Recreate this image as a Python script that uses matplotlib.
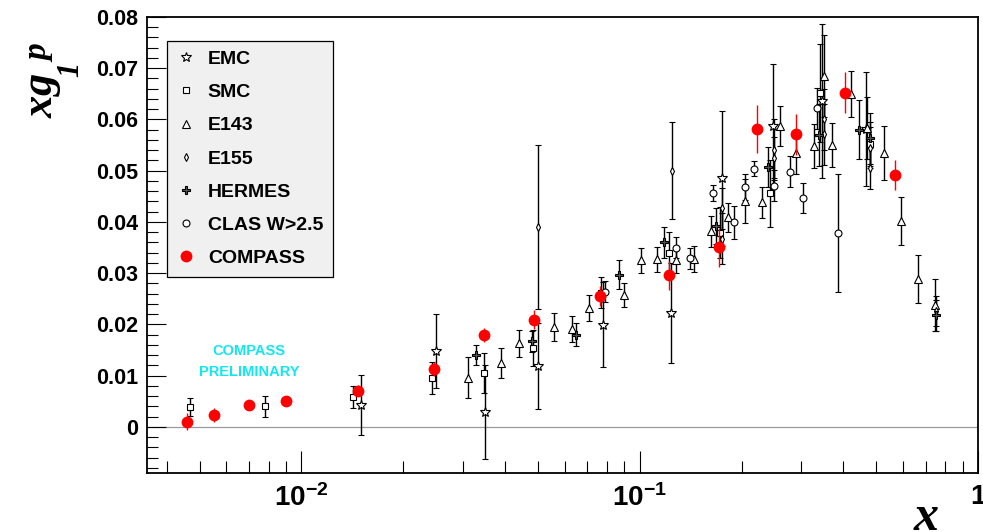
import matplotlib
matplotlib.use("Agg")
import matplotlib.pyplot as plt
from matplotlib.lines import Line2D

# ---- data ----
emc_x = [0.015, 0.025, 0.035, 0.050, 0.078, 0.124, 0.175, 0.248, 0.346, 0.466]
emc_y = [0.0043, 0.0148, 0.0029, 0.0118, 0.0199, 0.0222, 0.0485, 0.0587, 0.0636, 0.0582]
emc_e = [0.0058, 0.0072, 0.0092, 0.0084, 0.0083, 0.0098, 0.0132, 0.0122, 0.0150, 0.0111]

smc_x = [0.0047, 0.0078, 0.0142, 0.0244, 0.0346, 0.0485, 0.077, 0.122, 0.173, 0.242, 0.342, 0.48]
smc_y = [0.0039, 0.0040, 0.00585, 0.0096, 0.0105, 0.0154, 0.0262, 0.0339, 0.0379, 0.0456, 0.0652, 0.0552]
smc_e = [0.0017, 0.0020, 0.0021, 0.0031, 0.0039, 0.0035, 0.0030, 0.0042, 0.0050, 0.0065, 0.0096, 0.0043]

e143_x = [0.031, 0.039, 0.0439, 0.0559, 0.063, 0.0709, 0.090, 0.101, 0.1127, 0.1277,
          0.1445, 0.1625, 0.182, 0.2045, 0.23, 0.259, 0.2907, 0.328, 0.35, 0.37,
          0.42, 0.47, 0.527, 0.591, 0.665, 0.748]
e143_y = [0.0096, 0.0124, 0.0163, 0.0195, 0.0191, 0.0232, 0.0257, 0.0325, 0.0327, 0.0326,
          0.0328, 0.0382, 0.0409, 0.0440, 0.0438, 0.0588, 0.0534, 0.0549, 0.0685, 0.0550,
          0.0650, 0.0583, 0.0535, 0.0402, 0.0288, 0.0238]
e143_e = [0.0040, 0.0029, 0.0027, 0.0027, 0.0025, 0.0025, 0.0023, 0.0025, 0.0025, 0.0025,
          0.0025, 0.0030, 0.0028, 0.0043, 0.0030, 0.0039, 0.0040, 0.0043, 0.0080, 0.0043,
          0.0045, 0.0060, 0.0053, 0.0047, 0.0047, 0.0050]

e155_x = [0.050, 0.125, 0.175, 0.175, 0.25, 0.25, 0.35, 0.35, 0.48, 0.48, 0.75]
e155_y = [0.0391, 0.0500, 0.0427, 0.0367, 0.0525, 0.0541, 0.0600, 0.0571, 0.0505, 0.0545, 0.0226]
e155_e = [0.0160, 0.0095, 0.0040, 0.0050, 0.0040, 0.0060, 0.0060, 0.0060, 0.0040, 0.0040, 0.0030]

hermes_x = [0.0329, 0.048, 0.065, 0.087, 0.118, 0.168, 0.24, 0.34, 0.446, 0.478, 0.75]
hermes_y = [0.0140, 0.0167, 0.0180, 0.0297, 0.0360, 0.0392, 0.0507, 0.0570, 0.0580, 0.0563, 0.0218]
hermes_e = [0.0020, 0.0021, 0.0023, 0.0028, 0.0030, 0.0035, 0.0039, 0.0060, 0.0058, 0.0050, 0.0030]

clas_x = [0.079, 0.128, 0.1405, 0.1652, 0.1906, 0.2045, 0.218, 0.25, 0.279, 0.303, 0.334, 0.3855]
clas_y = [0.0264, 0.0350, 0.0329, 0.0457, 0.0399, 0.0468, 0.0504, 0.0471, 0.0498, 0.0447, 0.0622, 0.0378]
clas_e = [0.0020, 0.0020, 0.0020, 0.0016, 0.0033, 0.0025, 0.0015, 0.0030, 0.0030, 0.0029, 0.0040, 0.0115]

compass_x = [0.0046, 0.0055, 0.0070, 0.0090, 0.0147, 0.0247, 0.0346, 0.0487, 0.0765,
             0.122, 0.172, 0.222, 0.290, 0.405, 0.570]
compass_y = [0.00103, 0.00234, 0.00435, 0.0051, 0.00708, 0.01126, 0.01795, 0.02094, 0.02556,
             0.0296, 0.0351, 0.0581, 0.0571, 0.0652, 0.0491]
compass_e = [0.0016, 0.0014, 0.0006, 0.0006, 0.0010, 0.0014, 0.0014, 0.0018, 0.0020,
             0.0028, 0.0038, 0.0047, 0.0040, 0.0040, 0.0029]

ytick_vals = [0, 0.01, 0.02, 0.03, 0.04, 0.05, 0.06, 0.07, 0.08]
ytick_labels = ["0", "0.01", "0.02", "0.03", "0.04", "0.05", "0.06", "0.07", "0.08"]
xtick_vals = [0.01, 0.1, 1]
xtick_labels = [r"$\mathbf{10^{-2}}$", r"$\mathbf{10^{-1}}$", r"$\mathbf{1}$"]

plt.rcParams["font.family"] = ["Liberation Sans", "DejaVu Sans"]
plt.rcParams["font.weight"] = "bold"
plt.rcParams["mathtext.fontset"] = "custom"
plt.rcParams["mathtext.it"] = "Liberation Serif:italic:bold"
plt.rcParams["mathtext.rm"] = "Liberation Serif:italic:bold"
plt.rcParams["mathtext.bf"] = "Liberation Sans:bold"

W, H = 983, 532
fig = plt.figure(figsize=(W / 100, H / 100), dpi=100)
ax = fig.add_axes([146.7 / W, 1 - 473 / H, (978 - 146.7) / W, (473 - 17) / H])


def draw(x, y, e, marker, ms, fc="white", ec="black", z=3, cap=2.2, mew=0.8):
    ax.errorbar(x, y, yerr=e, fmt=marker, ms=ms, mfc=fc, mec=ec, mew=mew,
                ecolor=ec, elinewidth=1.0, capsize=cap, capthick=1.0, zorder=z)


ax.axhline(0, color="#9a9a9a", lw=0.9, zorder=1)

draw(emc_x, emc_y, emc_e, "*", 7)
draw(smc_x, smc_y, smc_e, "s", 5)
draw(e143_x, e143_y, e143_e, "^", 5.5)
draw(e155_x, e155_y, e155_e, "d", 4)
draw(hermes_x, hermes_y, hermes_e, "P", 5.5, fc="#555555")
draw(clas_x, clas_y, clas_e, "o", 5)
draw(compass_x, compass_y, compass_e, "o", 8.5, fc="red", ec="red", z=5, cap=2.5, mew=0)

ax.set_xscale("log")
ax.set_xlim(0.00349, 1.0)
ax.set_ylim(-0.009, 0.08)

ax.set_yticks(ytick_vals)
ax.set_yticklabels(ytick_labels)
ax.set_yticks([v / 1000 for v in range(-8, 81, 2)], minor=True)
ax.set_xticks(xtick_vals)
ax.set_xticklabels(xtick_labels)
ax.set_xticks([m * 10.0 ** d for d in (-3, -2, -1) for m in range(2, 10)
               if 0.00349 < m * 10.0 ** d < 1], minor=True)
ax.xaxis.set_minor_formatter(plt.NullFormatter())

ax.tick_params(axis="y", which="major", direction="in", length=14, width=0.8,
               labelsize=15.5, pad=6)
ax.tick_params(axis="y", which="minor", direction="in", length=8, width=0.8)
ax.tick_params(axis="x", which="major", direction="in", length=16, width=0.8,
               labelsize=20, pad=8)
ax.tick_params(axis="x", which="minor", direction="in", length=8.5, width=0.8)
for s in ax.spines.values():
    s.set_linewidth(1.3)

handles = [
    Line2D([], [], ls="none", marker="*", ms=7, mfc="white", mec="black", mew=0.8),
    Line2D([], [], ls="none", marker="s", ms=5, mfc="white", mec="black", mew=0.8),
    Line2D([], [], ls="none", marker="^", ms=5.5, mfc="white", mec="black", mew=0.8),
    Line2D([], [], ls="none", marker="d", ms=4, mfc="white", mec="black", mew=0.8),
    Line2D([], [], ls="none", marker="P", ms=5.5, mfc="#555555", mec="black", mew=0.8),
    Line2D([], [], ls="none", marker="o", ms=5, mfc="white", mec="black", mew=0.8),
    Line2D([], [], ls="none", marker="o", ms=8.5, mfc="red", mec="red", mew=0),
]
names = ["EMC", "SMC", "E143", "E155", "HERMES", "CLAS W>2.5", "COMPASS"]
leg = ax.legend(handles, names, loc="upper left", bbox_to_anchor=(0.0244, 0.948),
                borderaxespad=0, prop={"weight": "bold", "size": 14},
                handlelength=1.0, handletextpad=0.6, borderpad=0.5,
                labelspacing=0.8, fancybox=False, framealpha=1)
leg.get_frame().set_facecolor("#f0f0f0")
leg.get_frame().set_edgecolor("black")
leg.get_frame().set_linewidth(0.9)

ax.text(0.0070, 0.0128, "COMPASS\nPRELIMINARY", color="#10e8f0", fontsize=10.5,
        fontweight="bold", ha="center", va="center", linespacing=1.6)

# y-axis title built from pieces (ROOT style: large sub/superscripts)
ytitle = dict(rotation=90, rotation_mode="anchor", ha="left", va="baseline")
fig.text(52 / W, 1 - 118 / H, r"$xg$", fontsize=32, **ytitle)
fig.text(46 / W, 1 - 62 / H, r"$p$", fontsize=24, **ytitle)
fig.text(79 / W, 1 - 78 / H, r"$1$", fontsize=22, **ytitle)
fig.text(926 / W, 2 / H, r"$x$", fontsize=36, ha="center", va="baseline")

fig.savefig("out.png", dpi=100)
